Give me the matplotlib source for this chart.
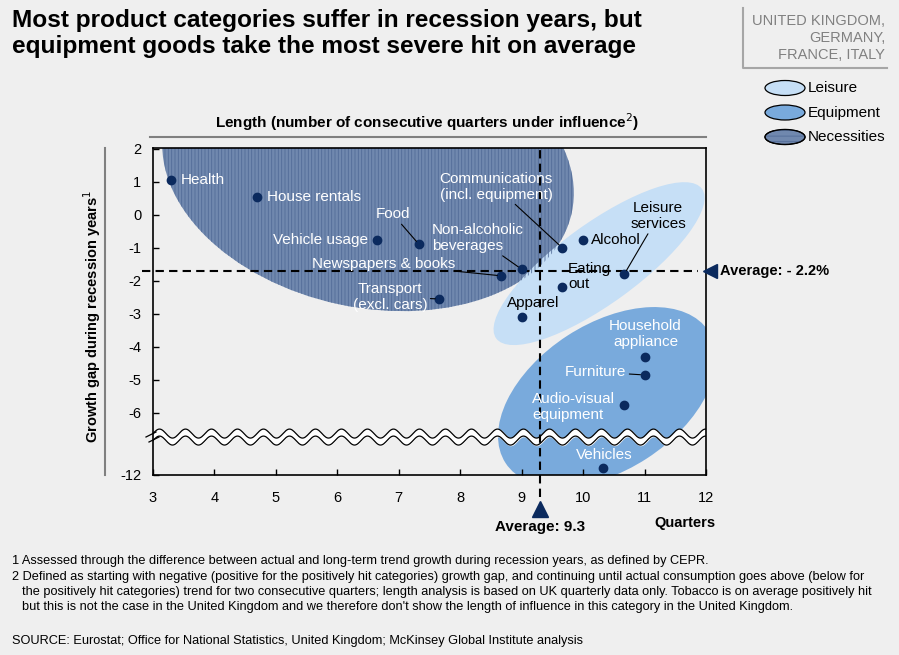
import numpy as np
import matplotlib
matplotlib.use("Agg")
import matplotlib.pyplot as plt
from matplotlib.patches import Ellipse
from matplotlib.transforms import Affine2D

# --- DATA ---
categories = ["Health", "House rentals", "Vehicle usage", "Food",
              "Communications\n(incl. equipment)", "Non-alcoholic\nbeverages",
              "Newspapers & books", "Transport\n(excl. cars)",
              "Alcohol", "Leisure\nservices", "Eating\nout", "Apparel",
              "Household\nappliance", "Furniture", "Audio-visual\nequipment", "Vehicles"]
quarters = [3.3, 4.7, 6.65, 7.33, 9.66, 9.0, 8.67, 7.66,
            10.0, 10.67, 9.66, 9.0, 11.0, 11.0, 10.67, 10.33]
growth_gap = [1.05, 0.55, -0.75, -0.9, -1.0, -1.65, -1.85, -2.55,
              -0.75, -1.8, -2.2, -3.1, -4.3, -4.85, -5.75, -11.3]
groups = ["Necessities"] * 8 + ["Leisure"] * 4 + ["Equipment"] * 4

avg_quarters = 9.3
avg_growth_label = -2.2
avg_growth_line = -1.7

x_ticks = [3, 4, 5, 6, 7, 8, 9, 10, 11, 12]
y_ticks = [2, 1, 0, -1, -2, -3, -4, -5, -6, -12]

# group ellipses: center (quarters, growth), width/height in quarter units, angle
group_shapes = {
    "Necessities": (6.50, 1.38, 6.78, 4.5, -12),
    "Leisure": (10.26, -1.48, 4.14, 1.30, 36),
    "Equipment": (10.39, -5.52, 3.94, 2.38, 33),
}

# --- STYLE ---
plt.rcParams['font.family'] = ['Liberation Sans', 'DejaVu Sans']
plt.rcParams['hatch.linewidth'] = 0.6

BG = "#efefef"
NAVY = "#0b2a5e"
fills = {"Necessities": "#7088ae", "Leisure": "#c6dff6", "Equipment": "#79aadc"}
HATCH_COL = "#526c98"
label_colors = {"Necessities": "white", "Leisure": "black", "Equipment": "white"}

# text offsets (pixels) and alignment, plus whether a leader line is drawn
label_style = [
    ((9, 0), 'left', False), ((10, 0), 'left', False), ((-9, 0), 'right', False),
    ((-26, 30), 'center', True), ((-66, 61), 'center', True), ((-90, 31), 'left', True),
    ((-46, 12), 'right', True), ((-49, 2), 'center', True),
    ((8, 0), 'left', False), ((34, 58), 'center', True), ((6, 11), 'left', False),
    ((11, 14), 'center', False),
    ((1, 23), 'center', False), ((-18, 3), 'right', True), ((-92, -2), 'left', False),
    ((1, 13), 'center', False),
]


def fold(v):
    # broken axis: everything below -6 is squeezed
    v = np.asarray(v, dtype=float)
    return np.where(v >= -6, v, -6 + (v + 6) * 0.313)


W, H = 899, 655
fig = plt.figure(figsize=(W / 100, H / 100), dpi=100, facecolor=BG)
ax = fig.add_axes([153 / W, 1 - 475 / H, (706 - 153) / W, (475 - 148) / H])
ax.set_facecolor(BG)
ax.set_xlim(3, 12)
ax.set_ylim(float(fold(-12)), 2.02)

# px per unit, to keep ellipse angles true on screen
sx = (706 - 153) / 9.0
sy = (475 - 148) / (2.02 - float(fold(-12)))
ratio = sx / sy

for g, (cx, cy, w, h, ang) in group_shapes.items():
    tr = Affine2D().scale(1.0, ratio).translate(cx, cy) + ax.transData
    ax.add_patch(Ellipse((0, 0), w, h, angle=ang, transform=tr,
                         facecolor=fills[g], edgecolor='none', zorder=1))
    if g == "Necessities":
        ax.add_patch(Ellipse((0, 0), w, h, angle=ang, transform=tr, facecolor='none',
                             edgecolor=HATCH_COL, hatch='|||||', lw=0, zorder=1.1))

# wavy break band
xs = np.linspace(3, 12, 600)
y_mid = -6.73
amp = 4.5 / sy
per = 26 / sx
wave = amp * np.sin(2 * np.pi * (xs - 3) / per)
up = y_mid + 3.5 / sy + wave
lo = y_mid - 3.5 / sy + wave
ax.fill_between(xs, lo, up, color='white', zorder=2)
ax.plot(xs, up, color='black', lw=0.9, zorder=2.1)
ax.plot(xs, lo, color='black', lw=0.9, zorder=2.1)

# average lines
ax.plot([avg_quarters, avg_quarters], [-0.067, 1.0], transform=ax.get_xaxis_transform(),
        color='black', ls='--', lw=1.5, dashes=(4, 2.5), clip_on=False, zorder=3)
ax.plot([-0.02, 0.985], [avg_growth_line, avg_growth_line], transform=ax.get_yaxis_transform(),
        color='black', ls='--', lw=1.5, dashes=(4, 2.5), clip_on=False, zorder=3)
ax.plot([avg_quarters], [-0.104], transform=ax.get_xaxis_transform(), marker='^',
        ms=11, color=NAVY, clip_on=False, zorder=3)
ax.plot([1.0075], [avg_growth_line], transform=ax.get_yaxis_transform(), marker='<',
        ms=10, color=NAVY, clip_on=False, zorder=3)
ax.text(avg_quarters, -0.16, "Average: %.1f" % avg_quarters, transform=ax.get_xaxis_transform(),
        ha='center', va='center', fontsize=11, fontweight='bold')
ax.text(1.026, avg_growth_line, "Average: - %.1f%%" % abs(avg_growth_label),
        transform=ax.get_yaxis_transform(), ha='left', va='center', fontsize=10.5,
        fontweight='bold')
ax.text(0.962, -0.147, "Quarters", transform=ax.transAxes,
        ha='center', va='center', fontsize=10.5, fontweight='bold')

# points and labels
ax.scatter(quarters, fold(growth_gap), s=36, color=NAVY, zorder=4)
for i, name in enumerate(categories):
    (dx, dy), ha, leader = label_style[i]
    kw = {}
    if leader:
        kw['arrowprops'] = dict(arrowstyle='-', color='black', lw=0.8, shrinkA=0, shrinkB=3)
    ax.annotate(name, (quarters[i], float(fold(growth_gap[i]))), xytext=(dx, dy),
                textcoords='offset pixels', ha=ha, va='center', fontsize=11,
                color=label_colors[groups[i]], linespacing=1.15, zorder=5, **kw)

ax.set_xticks(x_ticks)
ax.set_yticks(fold(y_ticks))
ax.set_yticklabels([str(t) for t in y_ticks])
ax.tick_params(direction='in', length=4, width=1, labelsize=10.5)
ax.tick_params(axis='x', pad=11.5)
ax.tick_params(axis='y', pad=8.5)
for s in ax.spines.values():
    s.set_linewidth(1.2)

# --- overlay in pixel coordinates ---
ov = fig.add_axes([0, 0, 1, 1], zorder=5)
ov.set_xlim(0, W)
ov.set_ylim(H, 0)
ov.axis('off')
ov.patch.set_alpha(0)

ov.text(12, 20, "Most product categories suffer in recession years, but",
        fontsize=17.6, fontweight='bold', va='center')
ov.text(12, 47, "equipment goods take the most severe hit on average",
        fontsize=17.6, fontweight='bold', va='center')

ov.plot([743, 743, 887], [8, 68, 68], color='#a6a6a6', lw=1.5)
ov.text(885, 38, "UNITED KINGDOM,\nGERMANY,\nFRANCE, ITALY", ha='right', va='center',
        color='#808080', fontsize=10.5, linespacing=1.25)

for k, g in enumerate(["Leisure", "Equipment", "Necessities"]):
    yy = 88 + k * 24.5
    ov.add_patch(Ellipse((785, yy), 40, 15, facecolor=fills[g], edgecolor='black', lw=0.9))
    if g == "Necessities":
        ov.add_patch(Ellipse((785, yy), 40, 15, facecolor='none', edgecolor=HATCH_COL,
                             hatch='---', lw=0))
        ov.add_patch(Ellipse((785, yy), 40, 15, facecolor='none', edgecolor='black', lw=0.9))
    ov.text(808, yy, g, va='center', fontsize=11)

ov.text(427, 122, "Length (number of consecutive quarters under influence$^{2}$)",
        ha='center', va='center', fontsize=11, fontweight='bold')
ov.plot([150, 706], [137, 137], color='#808080', lw=1.5)
ov.text(92, 316, "Growth gap during recession years$^{1}$", rotation=90,
        ha='center', va='center', fontsize=10.5, fontweight='bold')
ov.plot([105, 105], [148, 475], color='#808080', lw=1.5)

# break marks on y axis
ov.plot([146, 156], [437, 432], color='black', lw=0.9)
ov.plot([149, 159], [442, 437], color='black', lw=0.9)

notes = [
    (12, 561, "1 Assessed through the difference between actual and long-term trend growth during recession years, as defined by CEPR."),
    (12, 577, "2 Defined as starting with negative (positive for the positively hit categories) growth gap, and continuing until actual consumption goes above (below for"),
    (22, 592, "the positively hit categories) trend for two consecutive quarters; length analysis is based on UK quarterly data only. Tobacco is on average positively hit"),
    (22, 607, "but this is not the case in the United Kingdom and we therefore don't show the length of influence in this category in the United Kingdom."),
    (12, 641, "SOURCE: Eurostat; Office for National Statistics, United Kingdom; McKinsey Global Institute analysis"),
]
for x, y, t in notes:
    ov.text(x, y, t, fontsize=9.2, va='center')

fig.savefig("out.png", dpi=100, facecolor=BG)
